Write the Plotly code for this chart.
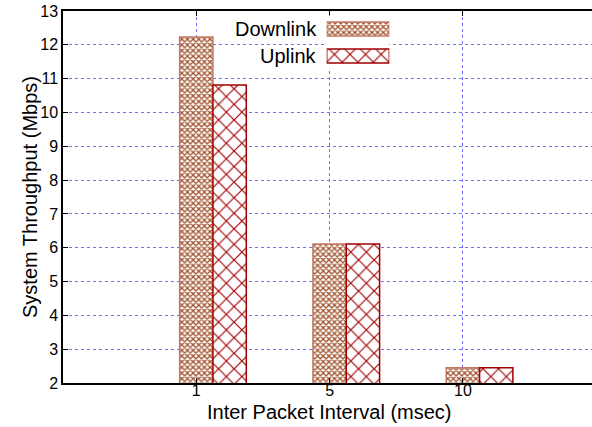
import plotly.graph_objects as go

categories = ["1", "5", "10"]
downlink = [12.23, 6.11, 2.45]
uplink = [10.81, 6.11, 2.45]
series_names = ["Downlink", "Uplink"]
x_title = "Inter Packet Interval (msec)"
y_title = "System Throughput (Mbps)"

W, H = 592, 427
ML, MR, MT, MB = 63, 0, 11, 44
PW, PH = W - ML - MR, H - MT - MB

def px_x(px):
    return (px - ML) / PW

def px_y(py):
    return (H - MB - py) / PH

dl_style = dict(fill="#a0522d", line="#c07a62", shape="x", size=4, solidity=0.55)
ul_style = dict(fill="#a00000", line="#a00000", shape="x", size=11, solidity=0.2)

def bar_kwargs(st):
    return dict(
        marker=dict(
            color="white",
            line=dict(color=st["line"], width=1.5),
            pattern=dict(shape=st["shape"], fgcolor=st["fill"], bgcolor="white",
                         size=st["size"], solidity=st["solidity"], fillmode="replace"),
        )
    )

fig = go.Figure()
fig.add_trace(go.Bar(x=categories, y=downlink, name=series_names[0], width=0.25,
                     offset=-0.125, showlegend=False, **bar_kwargs(dl_style)))
fig.add_trace(go.Bar(x=categories, y=uplink, name=series_names[1], width=0.25,
                     offset=0.125, showlegend=False, **bar_kwargs(ul_style)))

# legend samples drawn on an inset axis
for name, st in zip(series_names, [dl_style, ul_style]):
    fig.add_trace(go.Bar(x=[1], y=[name], orientation="h", width=0.52,
                         xaxis="x2", yaxis="y2", showlegend=False,
                         hoverinfo="skip", **bar_kwargs(st)))

font_family = "Liberation Sans, Arial, sans-serif"
grid_col = "#7070ff"

fig.update_layout(
    width=W, height=H,
    margin=dict(l=ML, r=MR, t=MT, b=MB, pad=0),
    paper_bgcolor="white", plot_bgcolor="white",
    barmode="overlay",
    font=dict(family=font_family, size=16, color="black"),
    xaxis=dict(
        type="category", categoryorder="array", categoryarray=categories,
        range=[-1, -1 + (W - ML - MR) / 133.3],
        showline=True, linecolor="black", linewidth=1.5, mirror="ticks",
        ticks="inside", ticklen=5, tickcolor="black",
        showgrid=True, gridcolor=grid_col, griddash="dot", gridwidth=1,
        tickfont=dict(size=16), ticklabelstandoff=-8,
    ),
    yaxis=dict(
        range=[2, 13], tickmode="linear", tick0=2, dtick=1,
        showline=True, linecolor="black", linewidth=1.5,
        ticks="inside", ticklen=5, tickcolor="black",
        showgrid=True, gridcolor=grid_col, griddash="dot", gridwidth=1,
        zeroline=False,
        tickfont=dict(size=16),
    ),
    xaxis2=dict(domain=[px_x(326.7), px_x(389.3)], range=[0, 1], anchor="y2",
                visible=False, fixedrange=True),
    yaxis2=dict(domain=[px_y(69.5), px_y(15.5)], range=[-0.5, 1.5], anchor="x2",
                type="category", categoryorder="array",
                categoryarray=[series_names[1], series_names[0]],
                visible=False, fixedrange=True),
)

# axis titles
fig.add_annotation(text=x_title, xref="paper", yref="paper", x=px_x(329.5), y=px_y(412),
                   xanchor="center", yanchor="middle", showarrow=False,
                   font=dict(size=20, family=font_family))
fig.add_annotation(text=y_title, xref="paper", yref="paper", x=px_x(30), y=px_y(197),
                   xanchor="center", yanchor="middle", textangle=-90, showarrow=False,
                   font=dict(size=20, family=font_family))

for name, cy in zip(series_names, [29, 56]):
    fig.add_annotation(text=name, xref="paper", yref="paper", x=px_x(319), y=px_y(cy),
                       xanchor="right", yanchor="middle", showarrow=False,
                       font=dict(size=20, family=font_family))

fig.write_html("out.html")
